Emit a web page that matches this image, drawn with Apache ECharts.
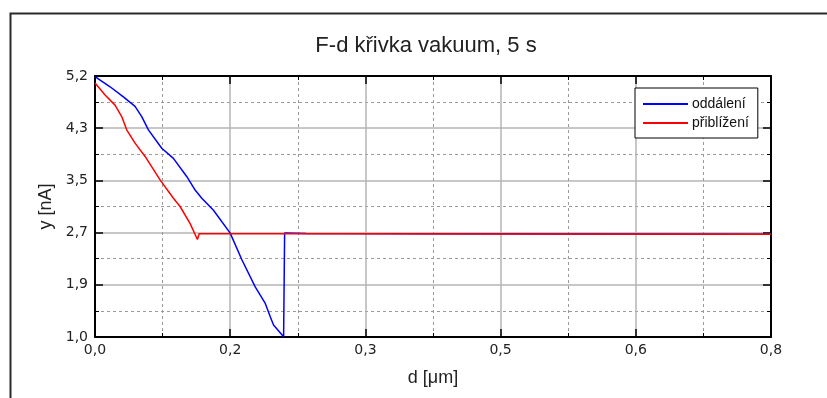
<!DOCTYPE html>
<html>
<head>
<meta charset="utf-8">
<script src="https://cdn.jsdelivr.net/npm/echarts@6/dist/echarts.min.js"></script>
<style>
  html, body { margin: 0; padding: 0; background: #fff; }
  #chart { width: 827px; height: 398px; }
</style>
</head>
<body>
<div id="chart"></div>
<script>
// tick labels as printed on the original axes
var xTickLabels = ['0,0', '0,2', '0,3', '0,5', '0,6', '0,8'];
var yTickLabels = ['1,0', '1,9', '2,7', '3,5', '4,3', '5,2'];

// oddálení (blue)
var blueX = [0, 0.0178, 0.0336, 0.0474, 0.0553, 0.0632, 0.079, 0.0928, 0.1087, 0.1185, 0.1264, 0.1402,
             0.16, 0.1738, 0.1896, 0.2015, 0.2074, 0.2113, 0.2232, 0.2244, 0.25, 0.4, 0.6, 0.8];
var blueY = [5.15, 4.99, 4.83, 4.68, 4.52, 4.31, 4.02, 3.86, 3.57, 3.36, 3.23, 3.04,
             2.68, 2.26, 1.83, 1.57, 1.36, 1.23, 1.045, 2.68, 2.675, 2.67, 2.665, 2.66];

// přiblížení (red)
var redX = [0, 0.0119, 0.0237, 0.0316, 0.0375, 0.0474, 0.0593, 0.077, 0.0928, 0.1007, 0.1126, 0.1212,
            0.1233, 0.3, 0.5, 0.8];
var redY = [5.05, 4.86, 4.70, 4.52, 4.31, 4.10, 3.89, 3.52, 3.23, 3.10, 2.83, 2.58,
            2.67, 2.668, 2.665, 2.66];

var xMin = 0, xMax = 0.8, xStep = 0.16;
var yMin = 1.04, yMax = 5.16, yStep = 0.824;

function pairs(xs, ys) {
    return xs.map(function(x, i) { return [x, ys[i]]; });
}

function xLabel(v) {
    return xTickLabels[Math.round((v - xMin) / xStep)] || '';
}
function yLabel(v) {
    return yTickLabels[Math.round((v - yMin) / yStep)] || '';
}

var labelFont = { fontFamily: 'DejaVu Sans', fontSize: 14, color: '#222' };
var gridMajor = { show: true, lineStyle: { color: '#b4b4b4', width: 1.5 } };
var gridMinor = { show: true, lineStyle: { color: '#9a9a9a', width: 1, type: [3, 3] } };

function frameAxis(extra) {
    return Object.assign({
        type: 'value',
        axisLine: { show: true, onZero: false, lineStyle: { color: '#000', width: 2 } },
        axisTick: { show: true, inside: true, length: 8, lineStyle: { color: '#000', width: 1.5 } },
        minorTick: { show: true, splitNumber: 2, length: 4, lineStyle: { color: '#000', width: 1 } },
        axisLabel: { show: false },
        splitLine: { show: false }
    }, extra);
}

var chart = echarts.init(document.getElementById('chart'));
chart.setOption({
    animation: false,
    backgroundColor: '#fff',
    graphic: [{
        type: 'rect',
        left: 8, top: 11,
        shape: { width: 900, height: 500 },
        style: { fill: 'none', stroke: '#2a2a2a', lineWidth: 2 }
    }],
    title: {
        text: 'F-d křivka vakuum, 5 s',
        left: 421, top: 30, textAlign: 'center',
        textStyle: { fontFamily: 'Liberation Sans', fontSize: 22, fontWeight: 'normal', color: '#222' }
    },
    legend: {
        orient: 'vertical',
        left: 635, top: 88,
        itemWidth: 45, itemHeight: 14, itemGap: 5,
        padding: [9, 9, 8, 7],
        backgroundColor: '#fff',
        borderColor: '#000', borderWidth: 1,
        itemStyle: { opacity: 0 },
        textStyle: { fontFamily: 'Liberation Sans', fontSize: 14, color: '#111', padding: [0, 0, 0, -1] },
        data: ['oddálení', 'přiblížení']
    },
    grid: { left: 95, right: 56, top: 76, bottom: 61 },
    xAxis: [
        frameAxis({
            min: xMin, max: xMax, interval: xStep,
            name: 'd [μm]', nameLocation: 'middle', nameGap: 32,
            nameTextStyle: { fontFamily: 'Liberation Sans', fontSize: 18, color: '#222' },
            axisLabel: Object.assign({ show: true, margin: 6, formatter: xLabel }, labelFont),
            splitLine: gridMajor,
            minorSplitLine: gridMinor
        }),
        frameAxis({ position: 'top', min: xMin, max: xMax, interval: xStep })
    ],
    yAxis: [
        frameAxis({
            min: yMin, max: yMax, interval: yStep,
            name: 'y [nA]', nameLocation: 'middle', nameGap: 40,
            nameTextStyle: { fontFamily: 'Liberation Sans', fontSize: 18, color: '#222' },
            axisLabel: Object.assign({ show: true, margin: 7, formatter: yLabel }, labelFont),
            splitLine: gridMajor,
            minorSplitLine: gridMinor
        }),
        frameAxis({ position: 'right', min: yMin, max: yMax, interval: yStep })
    ],
    series: [
        {
            name: 'oddálení',
            type: 'line',
            symbol: 'none',
            color: '#0000ff',
            lineStyle: { width: 1.5 },
            data: pairs(blueX, blueY)
        },
        {
            name: 'přiblížení',
            type: 'line',
            symbol: 'none',
            color: '#ff0000',
            lineStyle: { width: 1.5 },
            data: pairs(redX, redY)
        }
    ]
});

window.addEventListener('resize', function() {
    chart.resize();
});
</script>
</body>
</html>
